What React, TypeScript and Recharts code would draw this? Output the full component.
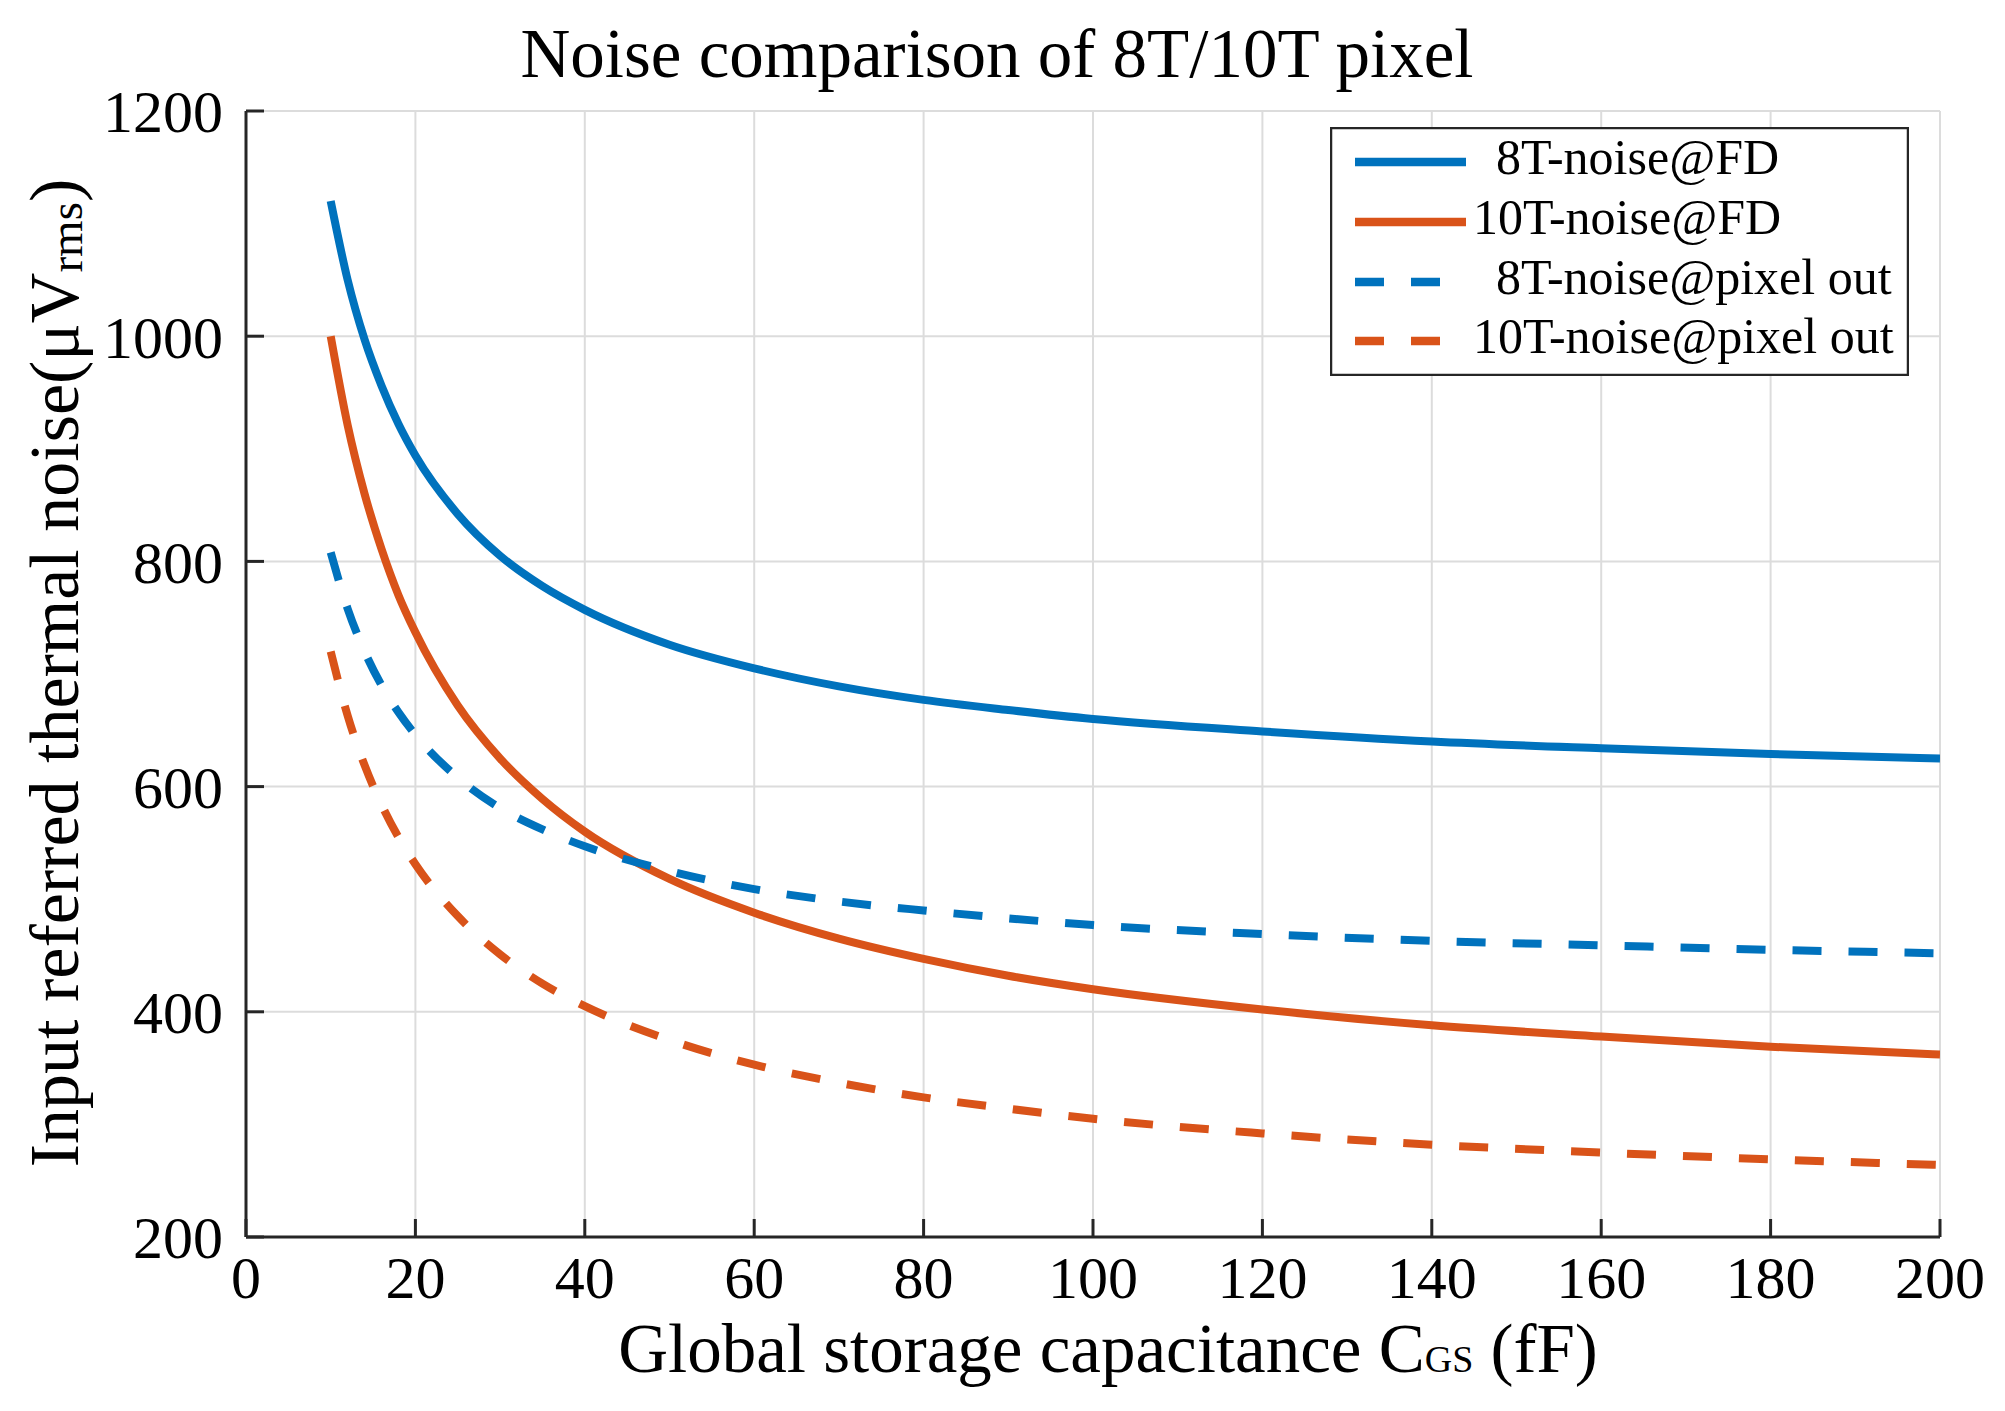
import React from 'react';
import { LineChart, Line, XAxis, YAxis, CartesianGrid, Legend } from 'recharts';

const capacitance = [10, 12, 14, 16, 18, 20, 25, 30, 35, 40, 50, 60, 70, 80, 90, 100, 120, 140, 160, 180, 200];
const noise8TFD = [1120, 1050, 997, 956, 922, 894, 842, 805, 778, 757, 726, 705, 689, 677, 668, 660, 649, 640, 634, 629, 625];
const noise10TFD = [1000, 921, 860, 811, 770, 737, 672, 625, 589, 560, 518, 488, 465, 447, 432, 420, 402, 388, 378, 369, 362];
const noise8TPixel = [808, 758, 720, 690, 666, 646, 608, 581, 562, 547, 525, 509, 498, 490, 483, 477, 469, 463, 459, 455, 452];
const noise10TPixel = [720, 663, 619, 584, 555, 531, 485, 451, 425, 405, 375, 353, 337, 324, 314, 305, 292, 282, 275, 269, 264];

const xTicks = [0, 20, 40, 60, 80, 100, 120, 140, 160, 180, 200];
const yTicks = [200, 400, 600, 800, 1000, 1200];

const seriesNames = ['8T-noise@FD', '10T-noise@FD', '8T-noise@pixel out', '10T-noise@pixel out'];
const seriesKeys = ['n8fd', 'n10fd', 'n8px', 'n10px'];

const BLUE = '#0072BD';
const ORANGE = '#D95319';
const FONT = '"Liberation Serif", "Times New Roman", serif';

const seriesStyle = [
  { color: BLUE, dash: undefined as string | undefined },
  { color: ORANGE, dash: undefined as string | undefined },
  { color: BLUE, dash: '29 27' },
  { color: ORANGE, dash: '29 27' },
];

const data = capacitance.map((c, i) => ({
  c,
  n8fd: noise8TFD[i],
  n10fd: noise10TFD[i],
  n8px: noise8TPixel[i],
  n10px: noise10TPixel[i],
}));

const LegendBox = () => {
  const rowY = [35, 95, 155, 214];
  const textX = [166, 143, 166, 143];
  return (
    <svg width={579} height={249} style={{ display: 'block' }}>
      <rect x={1} y={1} width={577} height={247} fill="#fff" stroke="#262626" strokeWidth={2.5} />
      {seriesNames.map((name, i) => (
        <g key={name}>
          <line
            x1={25}
            x2={seriesStyle[i].dash ? 110 : 136}
            y1={rowY[i]}
            y2={rowY[i]}
            stroke={seriesStyle[i].color}
            strokeWidth={8.5}
            strokeDasharray={seriesStyle[i].dash}
          />
          <text x={textX[i]} y={rowY[i] + 12} fontFamily={FONT} fontSize={50} fill="#000">
            {name}
          </text>
        </g>
      ))}
    </svg>
  );
};

export default function App() {
  return (
    <div style={{ position: 'absolute', left: 0, top: 0, width: 2005, height: 1411, background: '#fff' }}>
      <LineChart
        width={2005}
        height={1411}
        data={data}
        margin={{ top: 111, right: 65, left: 0, bottom: 0 }}
      >
        <CartesianGrid stroke="#dcdcdc" strokeWidth={2} />
        <XAxis
          dataKey="c"
          type="number"
          domain={[0, 200]}
          ticks={xTicks}
          interval={0}
          height={174}
          tickSize={-18}
          tickMargin={36}
          axisLine={{ stroke: '#262626', strokeWidth: 3 }}
          tickLine={{ stroke: '#262626', strokeWidth: 3 }}
          tick={{ fill: '#000', fontSize: 60, fontFamily: FONT }}
          allowDataOverflow
        />
        <YAxis
          type="number"
          domain={[200, 1200]}
          ticks={yTicks}
          interval={0}
          width={246}
          tickSize={-18}
          tickMargin={41}
          axisLine={{ stroke: '#262626', strokeWidth: 3 }}
          tickLine={{ stroke: '#262626', strokeWidth: 3 }}
          tick={{ fill: '#000', fontSize: 60, fontFamily: FONT }}
          allowDataOverflow
        />
        {seriesKeys.map((k, i) => (
          <Line
            key={k}
            dataKey={k}
            name={seriesNames[i]}
            type="monotone"
            stroke={seriesStyle[i].color}
            strokeWidth={8}
            strokeDasharray={seriesStyle[i].dash}
            dot={false}
            activeDot={false}
            isAnimationActive={false}
          />
        ))}
        <Legend
          layout="horizontal"
          verticalAlign="middle"
          align="center"
          wrapperStyle={{ position: 'absolute', left: 1330, top: 127, width: 579, height: 249, margin: 0, padding: 0 }}
          content={() => <LegendBox />}
        />
      </LineChart>
      <svg
        width={2005}
        height={1411}
        style={{ position: 'absolute', left: 0, top: 0, pointerEvents: 'none' }}
      >
        <text x={997} y={77} textAnchor="middle" fontFamily={FONT} fontSize={69} fill="#000">
          Noise comparison of 8T/10T pixel
        </text>
        <text x={1108} y={1372} textAnchor="middle" fontFamily={FONT} fontSize={69} fill="#000">
          Global storage capacitance C<tspan fontSize={38}>GS</tspan> (fF)
        </text>
        <text
          x={78}
          y={673}
          textAnchor="middle"
          fontFamily={FONT}
          fontSize={70}
          fill="#000"
          transform="rotate(-90 78 673)"
        >
          Input referred thermal noise(μV<tspan fontSize={47} dy={4}>rms</tspan>
          <tspan dy={-4}>)</tspan>
        </text>
      </svg>
    </div>
  );
}
